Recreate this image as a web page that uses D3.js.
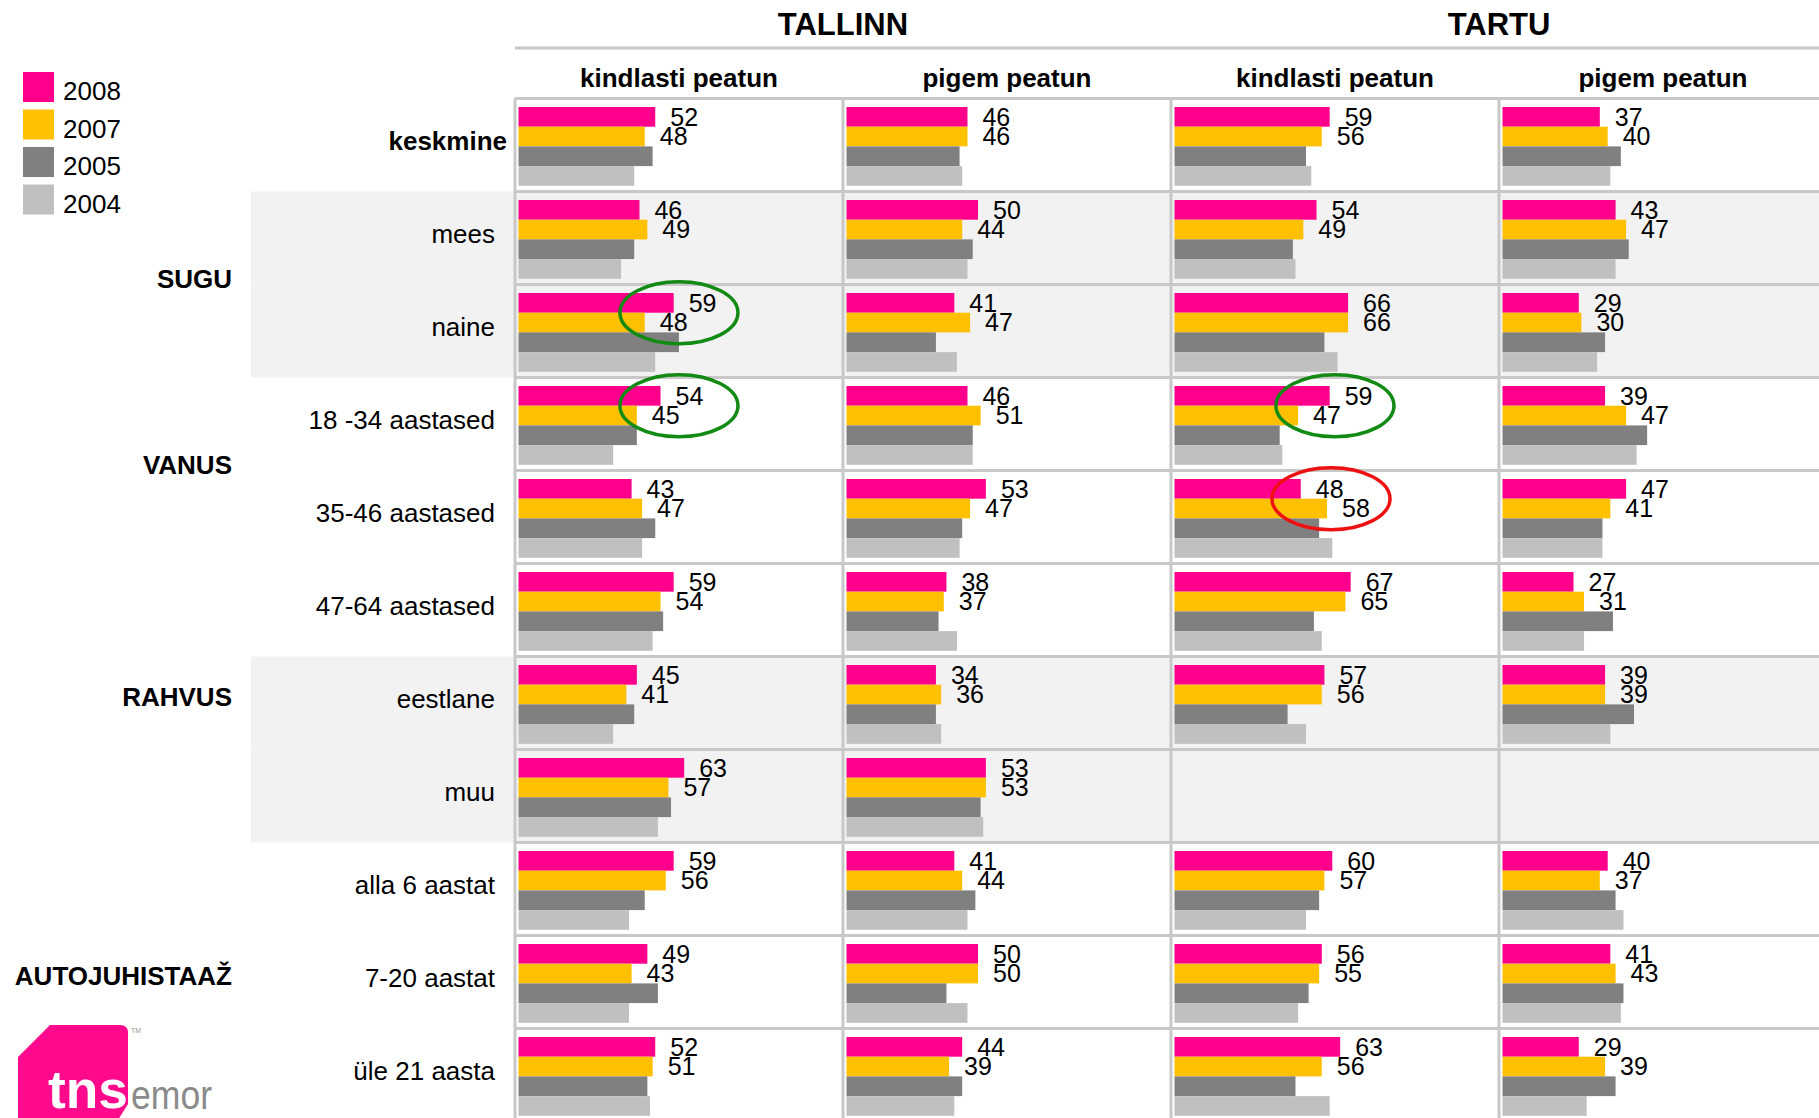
<!DOCTYPE html>
<html><head><meta charset="utf-8">
<script src="https://cdn.jsdelivr.net/npm/d3@7"></script>
<style>
body{margin:0;background:#fff}
svg{display:block}
text{font-family:"Liberation Sans",Arial,Helvetica,sans-serif}
</style>
</head><body><svg id="chart" width="1819" height="1118"></svg>
<script>
// ---------- data ----------
const cities = ["TALLINN", "TARTU"];
const answers = ["kindlasti peatun", "pigem peatun"];
const rows = ["keskmine", "mees", "naine", "18 -34 aastased", "35-46 aastased", "47-64 aastased",
              "eestlane", "muu", "alla 6 aastat", "7-20 aastat", "üle 21 aasta"];
const groups = [
  {name: "SUGU", at: 1.5},
  {name: "VANUS", at: 3.5},
  {name: "RAHVUS", at: 6},
  {name: "AUTOJUHISTAAŽ", at: 9}
];
const shadedRows = [1, 2, 6, 7];
const years = ["2008", "2007", "2005", "2004"];
const labelledYears = ["2008", "2007"];
// each row: [Tallinn kindlasti, Tallinn pigem, Tartu kindlasti, Tartu pigem]
const v2008 = [[52,46,59,37],[46,50,54,43],[59,41,66,29],[54,46,59,39],[43,53,48,47],[59,38,67,27],
               [45,34,57,39],[63,53,null,null],[59,41,60,40],[49,50,56,41],[52,44,63,29]];
const v2007 = [[48,46,56,40],[49,44,49,47],[48,47,66,30],[45,51,47,47],[47,47,58,41],[54,37,65,31],
               [41,36,56,39],[57,53,null,null],[56,44,57,37],[43,50,55,43],[51,39,56,39]];
const v2005 = [[51,43,50,45],[44,48,45,48],[61,34,57,39],[45,48,40,55],[52,44,55,38],[55,35,53,42],
               [44,34,43,50],[58,51,null,null],[48,49,55,43],[53,38,51,46],[49,44,46,43]];
const v2004 = [[44,44,52,41],[39,46,46,43],[52,42,62,36],[36,48,41,51],[47,43,60,38],[51,42,56,31],
               [36,36,50,41],[53,52,null,null],[42,46,50,46],[42,46,47,45],[50,41,59,32]];
// circled cells (row index, panel index, centre in value units)
const highlights = [
  {row: 2, panel: 0, at: 61, color: "green"},
  {row: 3, panel: 0, at: 61, color: "green"},
  {row: 3, panel: 2, at: 61, color: "green"},
  {row: 4, panel: 2, at: 59.5, color: "red"}
];

// ---------- layout ----------
const W = 1819, H = 1118;
const svg = d3.select("#chart");
const panelLeft = 515, panelW = 328, topY = 98.5, rowH = 93;
const panels = d3.range(cities.length * answers.length);
const px = d3.scaleBand().domain(panels).range([panelLeft, panelLeft + panels.length * panelW]);
const y = d3.scaleBand().domain(d3.range(rows.length)).range([topY, topY + rows.length * rowH]);
const x = d3.scaleLinear().domain([0, 100]).range([0, 263]);
const barStart = 3.5;
const yb = d3.scaleBand().domain(years).range([8.5, 8.5 + 4 * 19.7]);
const color = d3.scaleOrdinal().domain(years).range(["#FF008C", "#FFC000", "#808080", "#C0C0C0"]);
const series = {"2008": v2008, "2007": v2007, "2005": v2005, "2004": v2004};
const lineColor = "#C8C8C8";

// shaded row backgrounds
svg.append("g").selectAll("rect").data(shadedRows).join("rect")
  .attr("x", 251).attr("y", d => y(d)).attr("width", W - 251).attr("height", rowH)
  .attr("fill", "#F2F2F2");

// bars
const cells = [];
rows.forEach((r, ri) => panels.forEach(p => years.forEach(yr => {
  const v = series[yr][ri][p];
  if (v != null) cells.push({ri, p, yr, v});
})));
svg.append("g").selectAll("rect").data(cells).join("rect")
  .attr("x", d => px(d.p) + barStart)
  .attr("y", d => y(d.ri) + yb(d.yr))
  .attr("width", d => x(d.v))
  .attr("height", yb.bandwidth())
  .attr("fill", d => color(d.yr));

// grid lines
const grid = svg.append("g").attr("stroke", lineColor).attr("stroke-width", 3);
grid.selectAll("line.h").data(d3.range(rows.length + 1)).join("line").attr("class", "h")
  .attr("x1", panelLeft).attr("x2", W)
  .attr("y1", d => topY + d * rowH).attr("y2", d => topY + d * rowH);
grid.selectAll("line.v").data(panels).join("line").attr("class", "v")
  .attr("x1", d => px(d)).attr("x2", d => px(d))
  .attr("y1", topY).attr("y2", H);
grid.append("line").attr("x1", panelLeft).attr("x2", W).attr("y1", 48).attr("y2", 48);

// value labels
svg.append("g").selectAll("text").data(cells.filter(d => labelledYears.includes(d.yr))).join("text")
  .attr("x", d => px(d.p) + barStart + x(d.v) + 15)
  .attr("y", d => y(d.ri) + yb(d.yr) + yb.bandwidth() / 2 + 8.8)
  .attr("font-size", 25).attr("fill", "#000")
  .text(d => d.v);

// highlight ellipses
svg.append("g").selectAll("ellipse").data(highlights).join("ellipse")
  .attr("cx", d => px(d.panel) + barStart + x(d.at))
  .attr("cy", d => y(d.row) + yb("2007"))
  .attr("rx", 59).attr("ry", 31)
  .attr("fill", "none")
  .attr("stroke", d => d.color === "red" ? "#EE1111" : "#138A13")
  .attr("stroke-width", 3.5);

// city headers
svg.append("g").selectAll("text").data(cities).join("text")
  .attr("x", (d, i) => (px(i * 2) + (i === cities.length - 1 ? W + 8 : px(i * 2 + 2))) / 2)
  .attr("y", 35).attr("text-anchor", "middle")
  .attr("font-size", 31).attr("font-weight", "bold").text(d => d);

// answer headers
svg.append("g").selectAll("text").data(panels).join("text")
  .attr("x", d => px(d) + panelW / 2).attr("y", 87).attr("text-anchor", "middle")
  .attr("font-size", 26).attr("font-weight", "bold")
  .text(d => answers[d % answers.length]);

// row labels
svg.append("g").selectAll("text").data(rows).join("text")
  .attr("x", (d, i) => i === 0 ? 507 : 495)
  .attr("y", (d, i) => y(i) + rowH / 2 - 4.5)
  .attr("dominant-baseline", "central").attr("text-anchor", "end")
  .attr("font-size", 26).attr("font-weight", (d, i) => i === 0 ? "bold" : "normal")
  .text(d => d);

// group labels
svg.append("g").selectAll("text").data(groups).join("text")
  .attr("x", 232)
  .attr("y", d => topY + d.at * rowH + rowH / 2 - 6)
  .attr("dominant-baseline", "central").attr("text-anchor", "end")
  .attr("font-size", 26).attr("font-weight", "bold")
  .text(d => d.name);

// legend
const leg = svg.append("g").selectAll("g").data(years).join("g")
  .attr("transform", (d, i) => `translate(23,${72 + i * 37.5})`);
leg.append("rect").attr("width", 31).attr("height", 30).attr("fill", d => color(d));
leg.append("text").attr("x", 40).attr("y", 28).attr("font-size", 26).text(d => d);

// logo
const logo = svg.append("g");
logo.append("path")
  .attr("d", "M18,1057 L50,1025 L120,1025 Q128,1025 128,1033 L128,1104 L118,1120 L18,1120 Z")
  .attr("fill", "#FF0A8C");
logo.append("text").attr("x", 48).attr("y", 1108).attr("font-size", 54).attr("font-weight", "bold")
  .attr("fill", "#fff").attr("textLength", 80).attr("lengthAdjust", "spacingAndGlyphs").text("tns");
logo.append("text").attr("x", 131).attr("y", 1109).attr("font-size", 40).attr("fill", "#8A8A8A")
  .attr("textLength", 81).attr("lengthAdjust", "spacingAndGlyphs").text("emor");
logo.append("text").attr("x", 131).attr("y", 1033).attr("font-size", 7).attr("fill", "#999").text("TM");
</script>
</body></html>
